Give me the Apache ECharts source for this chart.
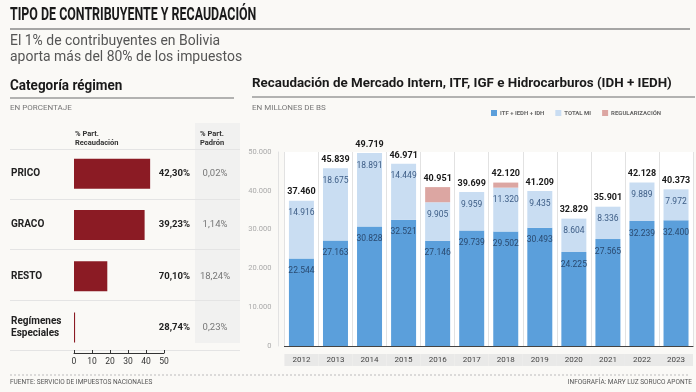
<!DOCTYPE html>
<html><head><meta charset="utf-8">
<script src="https://cdn.jsdelivr.net/npm/echarts@6/dist/echarts.min.js"></script>
<style>html,body{margin:0;padding:0;background:#faf9f6}#c{width:696px;height:392px}</style>
</head><body><div id="c"></div>
<script>
// ---- Left panel data ----
const regimenes = ['PRICO', 'GRACO', 'RESTO', 'Regímenes\nEspeciales'];
const partRecaudacionBar = [42.30, 39.23, 18.5, 0.6];
const partRecaudacionLabel = ['42,30%', '39,23%', '70,10%', '28,74%'];
const partPadronLabel = ['0,02%', '1,14%', '18,24%', '0,23%'];
const leftTicks = [0, 10, 20, 30, 40, 50];

// ---- Right panel data ----
const years = ['2012','2013','2014','2015','2016','2017','2018','2019','2020','2021','2022','2023'];
const itfIedhIdh = [22544, 27163, 30828, 32521, 27146, 29739, 29502, 30493, 24225, 27565, 32239, 32400];
const totalMI = [14916, 18675, 18891, 14449, 9905, 9959, 11320, 9435, 8604, 8336, 9889, 7972];
const regularizacion = [0, 0, 0, 0, 3900, 0, 1298, 0, 0, 0, 0, 0];
const totales = [37460, 45839, 49719, 46971, 40951, 39699, 42120, 41209, 32829, 35901, 42128, 40373];
const labelCarrier = [0,0,0,0,0,0,0,0,0,0,0,0];

const F = 'Roboto, "Liberation Sans", sans-serif';
const fmt = n => String(n).replace(/\B(?=(\d{3})+(?!\d))/g, '.');

const chart = echarts.init(document.getElementById('c'));
chart.setOption({
  backgroundColor: '#faf9f6',
  animation: false,
  textStyle: { fontFamily: F },
  legend: {
    data: ['ITF + IEDH + IDH', 'TOTAL MI', 'REGULARIZACIÓN'],
    left: 486, top: 105, width: 205, itemWidth: 6, itemHeight: 6, itemGap: 11,
    icon: 'rect',
    textStyle: { fontFamily: F, fontSize: 6, fontWeight: 'bold', color: '#666', padding: [1, 0, 0, -2] }
  },
  graphic: [
    { type: 'text', x: 10, y: 6, scaleX: 0.69, style: { text: 'TIPO DE CONTRIBUYENTE Y RECAUDACIÓN', font: 'bold 18px ' + F, fill: '#1a1a1a' } },
    { type: 'text', x: 10, y: 33, scaleX: 0.93, style: { text: 'El 1% de contribuyentes en Bolivia\naporta más del 80% de los impuestos', font: '15px ' + F, fill: '#555', lineHeight: 16 } },
    { type: 'text', x: 10, y: 79, scaleX: 0.93, style: { text: 'Categoría régimen', font: 'bold 14.5px ' + F, fill: '#1a1a1a' } },
    { type: 'text', x: 10, y: 104, style: { text: 'EN PORCENTAJE', font: '8px ' + F, fill: '#777' } },
    { type: 'text', x: 252, y: 77, scaleX: 0.99, style: { text: 'Recaudación de Mercado Intern, ITF, IGF e Hidrocarburos (IDH + IEDH)', font: 'bold 13.5px ' + F, fill: '#1a1a1a' } },
    { type: 'text', x: 252, y: 104, style: { text: 'EN MILLONES DE BS', font: '8px ' + F, fill: '#777' } },
    { type: 'line', shape: { x1: 10, y1: 29, x2: 690, y2: 29 }, style: { stroke: '#8a8a8a', lineWidth: 1.5 } },
    { type: 'line', shape: { x1: 10, y1: 98, x2: 234, y2: 98 }, style: { stroke: '#9a9a9a', lineWidth: 1.5 } },
    { type: 'line', shape: { x1: 252, y1: 97, x2: 695, y2: 97 }, style: { stroke: '#9a9a9a', lineWidth: 1.5 } },
    { type: 'rect', z: -1, shape: { x: 195, y: 123, width: 45, height: 220 }, style: { fill: '#f1f1f0' } },
    { type: 'text', x: 75, y: 130, style: { text: '% Part.\nRecaudación', font: 'bold 7.5px ' + F, fill: '#333', lineHeight: 9 } },
    { type: 'text', x: 200, y: 130, style: { text: '% Part.\nPadrón', font: 'bold 7.5px ' + F, fill: '#333', lineHeight: 9 } },
    { type: 'line', shape: { x1: 10, y1: 375, x2: 690, y2: 375 }, style: { stroke: '#bbb', lineWidth: 1, lineDash: [2, 2] } },
    { type: 'text', x: 10, y: 379, style: { text: 'FUENTE: SERVICIO DE IMPUESTOS NACIONALES', font: '6.5px ' + F, fill: '#555' } },
    { type: 'text', right: 4, top: 379, style: { text: 'INFOGRAFÍA: MARY LUZ SORUCO APONTE', font: '6.5px ' + F, fill: '#555' } }
  ],
  grid: [
    { left: 74, width: 90, top: 148, bottom: 39 },           // left bars
    { left: 10, right: 456, top: 149, bottom: 42 },          // left row separators
    { left: 284.4, right: 2.4, top: 152, bottom: 46 }        // right chart
  ],
  xAxis: [
    { gridIndex: 0, type: 'value', min: leftTicks[0], max: leftTicks[leftTicks.length - 1], interval: 10,
      axisLine: { show: true, lineStyle: { color: '#333' } },
      axisTick: { show: true, inside: true, length: 3, lineStyle: { color: '#333' } },
      axisLabel: { fontSize: 8.5, color: '#333', margin: 4 },
      splitLine: { show: false } },
    { gridIndex: 1, type: 'value', show: false, min: 0, max: 1 },
    { gridIndex: 2, type: 'category', data: years,
      axisLine: { show: true, lineStyle: { color: '#444' } },
      axisTick: { show: false },
      splitLine: { show: true, interval: 0, lineStyle: { color: '#e2e2e2' } },
      splitArea: { show: true, interval: 0, areaStyle: { color: ['#ffffff'] } },
      axisLabel: { fontSize: 8, color: '#444', margin: 8,
        backgroundColor: '#e9e9e8', width: 34, align: 'center', padding: [2, 0, 2, 0], interval: 0 } }
  ],
  yAxis: [
    { gridIndex: 0, type: 'category', data: regimenes, inverse: true,
      axisLine: { show: false }, axisTick: { show: false },
      axisLabel: { align: 'left', margin: 63, fontSize: 10, fontWeight: 'bold', color: '#222', lineHeight: 12 } },
    { gridIndex: 0, type: 'category', data: partRecaudacionLabel, inverse: true, position: 'right',
      axisLine: { show: false }, axisTick: { show: false },
      axisLabel: { align: 'right', margin: 26, fontSize: 9.5, fontWeight: 'bold', color: '#222' } },
    { gridIndex: 0, type: 'category', data: partPadronLabel, inverse: true, position: 'right',
      axisLine: { show: false }, axisTick: { show: false },
      axisLabel: { align: 'center', margin: 51, fontSize: 9.5, color: '#777' } },
    { gridIndex: 1, type: 'category', data: regimenes, inverse: true,
      axisLine: { show: false }, axisTick: { show: false }, axisLabel: { show: false },
      splitLine: { show: true, interval: 0, lineStyle: { color: '#e4e4e4' } } },
    { gridIndex: 2, type: 'value', min: 0, max: 50000, interval: 10000, offset: 6,
      axisLine: { show: true, lineStyle: { color: '#e2e2e2' } },
      axisTick: { show: false },
      splitLine: { show: false },
      axisLabel: { fontSize: 7.5, color: '#aaa', margin: 7, formatter: v => fmt(v) } }
  ],
  series: [
    { type: 'bar', xAxisIndex: 0, yAxisIndex: 0, data: partRecaudacionBar, barWidth: 30,
      itemStyle: { color: '#8b1b24' }, silent: true },
    { name: 'ITF + IEDH + IDH', type: 'bar', xAxisIndex: 2, yAxisIndex: 4, stack: 'r', data: itfIedhIdh, barWidth: 25,
      itemStyle: { color: '#5b9fdb' },
      label: { show: true, position: 'insideTop', distance: 8, fontSize: 8.5, color: '#2a4a70', formatter: p => fmt(p.value) } },
    { name: 'TOTAL MI', type: 'bar', xAxisIndex: 2, yAxisIndex: 4, stack: 'r', data: totalMI, barWidth: 25,
      itemStyle: { color: '#c9ddf2' },
      label: { show: true, position: 'insideTop', distance: 8, fontSize: 8.5, color: '#3d5d86', formatter: p => fmt(p.value) } },
    { name: 'REGULARIZACIÓN', type: 'bar', xAxisIndex: 2, yAxisIndex: 4, stack: 'r', data: regularizacion, barWidth: 25,
      itemStyle: { color: '#dca6a2' } },
    { name: 'total', type: 'bar', xAxisIndex: 2, yAxisIndex: 4, stack: 'r', data: labelCarrier, barWidth: 25,
      itemStyle: { color: 'transparent' },
      label: { show: true, position: 'top', distance: 4, fontSize: 9, fontWeight: 'bold', color: '#1a1a1a',
        formatter: p => fmt(totales[p.dataIndex]) } }
  ]
});
</script></body></html>
